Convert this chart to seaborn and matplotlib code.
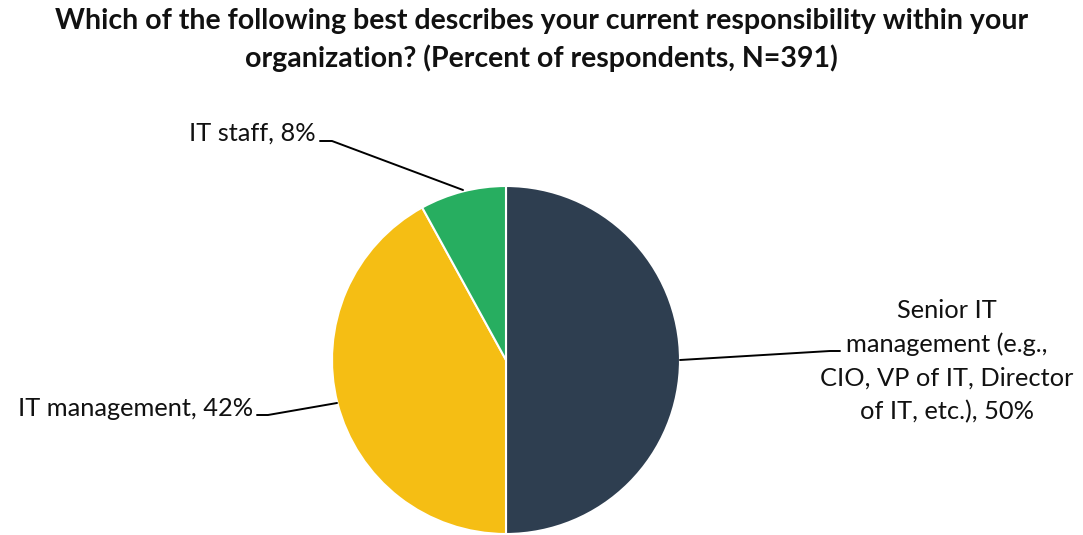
import matplotlib
matplotlib.use("Agg")
import matplotlib.pyplot as plt
import seaborn as sns

sns.set_theme(style="white")
plt.rcParams["font.family"] = ["Lato", "DejaVu Sans"]

# Survey responses (percent of respondents)
categories = ["Senior IT\nmanagement (e.g.,\nCIO, VP of IT, Director\nof IT, etc.)",
              "IT management", "IT staff"]
values = [50, 42, 8]
colors = sns.color_palette(["#2E3E50", "#F5BE14", "#27AE60"])

W, H = 1083, 535
fig = plt.figure(figsize=(W / 100, H / 100), dpi=100)
ax = fig.add_axes([0, 0, 1, 1])

def Y(py):
    # pixel row (top-down) to data y (bottom-up)
    return H - py

cx, cy, r = 506, 360, 174
ax.pie(values, colors=colors, startangle=90, counterclock=False,
       center=(cx, Y(cy)), radius=r,
       wedgeprops=dict(edgecolor="white", linewidth=1.5))
ax.set_xlim(0, W)
ax.set_ylim(0, H)
ax.set_aspect("equal")
ax.axis("off")

fig.text(0.5, 1 - 40 / H,
         "Which of the following best describes your current responsibility within your\n"
         "organization? (Percent of respondents, N=391)",
         ha="center", va="center", fontsize=20.5, fontweight="bold",
         linespacing=1.45, color="#111111")

lbl_kw = dict(fontsize=18.3, color="#111111")
line_kw = dict(color="black", linewidth=1.4)

# IT staff
ax.text(316, Y(133), f"{categories[2]}, {values[2]}%", ha="right", va="center", **lbl_kw)
ax.plot([320, 332, 463], [Y(141), Y(141), Y(190)], **line_kw)

# IT management
ax.text(253, Y(408), f"{categories[1]}, {values[1]}%", ha="right", va="center", **lbl_kw)
ax.plot([257, 268, 337], [Y(415), Y(415), Y(403)], **line_kw)

# Senior IT management
ax.text(947, Y(361), f"{categories[0]}, {values[0]}%", ha="center", va="center",
        linespacing=1.55, **lbl_kw)
ax.plot([680, 830, 840], [Y(360), Y(351), Y(351)], **line_kw)

fig.savefig("out.png", dpi=100)
